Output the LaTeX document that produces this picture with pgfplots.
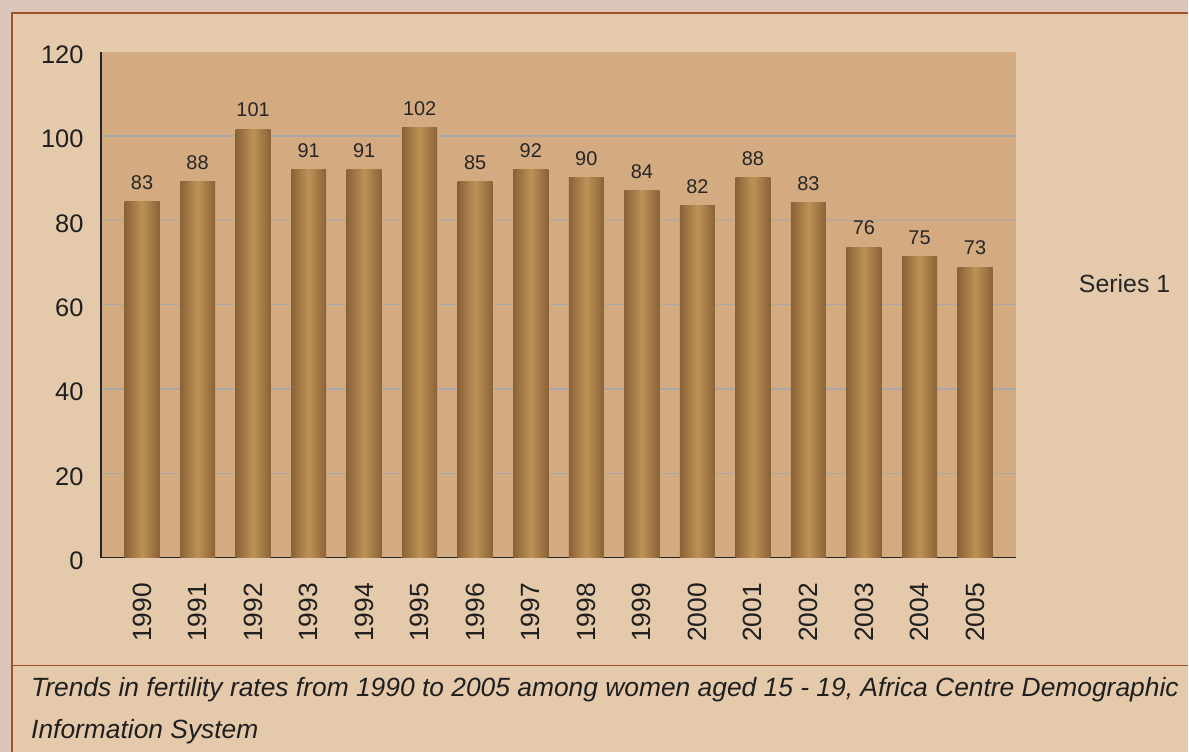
\documentclass[border=0pt]{standalone}
\usepackage{pgfplots}
\pgfplotsset{compat=1.18}
\usepackage{fontspec}
\setmainfont{Liberation Sans}
\definecolor{outerbg}{HTML}{DCC5B9}
\definecolor{framebg}{HTML}{E4C9AB}
\definecolor{frameline}{HTML}{A0522D}
\definecolor{plotbg}{HTML}{D4AA80}
\definecolor{gridgray}{HTML}{A8A8A8}
\definecolor{bardark}{HTML}{8A6236}
\definecolor{barlight}{HTML}{BD9257}
\begin{document}
\begin{tikzpicture}
\fill[outerbg] (0,0) rectangle (1189bp,753bp);
\fill[framebg] (12bp,0) rectangle (1189bp,740bp);
\draw[frameline, line width=2bp] (12bp,0) -- (12bp,740bp) -- (1189bp,740bp);
\draw[frameline, line width=1.5bp] (12bp,87bp) -- (1189bp,87bp);
\begin{axis}[
  at={(101bp,195bp)}, anchor=south west,
  scale only axis, width=916bp, height=506bp,
  xmin=-0.74, xmax=15.74, ymin=0, ymax=120,
  axis background/.style={fill=plotbg},
  axis x line*=bottom, axis y line*=left,
  axis line style={line width=1.5bp, color=black!85},
  ytick={0,20,...,100}, ymajorgrids,
  extra y ticks={120}, extra tick style={grid=none},
  grid style={line width=1.5bp, color=gridgray},
  xtick={0,...,15},
  xticklabels={1990,1991,1992,1993,1994,1995,1996,1997,1998,1999,2000,2001,2002,2003,2004,2005},
  major tick length=0,
  tick label style={font=\fontsize{25.5}{30}\selectfont, color=black!88},
  /pgf/number format/assume math mode=true,
  yticklabel style={xshift=-14bp, yshift=-3bp},
  x tick label style={yshift=-22bp, rotate=90, anchor=east, font=\fontsize{26.5}{30}\selectfont},
  ybar, bar width=0.63,
  nodes near coords, point meta=explicit symbolic,
  every node near coord/.append style={font=\fontsize{20}{24}\selectfont, yshift=9bp, color=black!85},
  barstyle/.style={draw=none, bar shift=0pt, left color=bardark, right color=bardark, middle color=barlight},
  clip=false,
]
\addplot[barstyle] coordinates {(0,84.4) [83]};
\addplot[barstyle] coordinates {(1,89.2) [88]};
\addplot[barstyle] coordinates {(2,101.7) [101]};
\addplot[barstyle] coordinates {(3,92.0) [91]};
\addplot[barstyle] coordinates {(4,92.0) [91]};
\addplot[barstyle] coordinates {(5,102.0) [102]};
\addplot[barstyle] coordinates {(6,89.2) [85]};
\addplot[barstyle] coordinates {(7,92.0) [92]};
\addplot[barstyle] coordinates {(8,90.1) [90]};
\addplot[barstyle] coordinates {(9,87.0) [84]};
\addplot[barstyle] coordinates {(10,83.5) [82]};
\addplot[barstyle] coordinates {(11,90.1) [88]};
\addplot[barstyle] coordinates {(12,84.2) [83]};
\addplot[barstyle] coordinates {(13,73.7) [76]};
\addplot[barstyle] coordinates {(14,71.4) [75]};
\addplot[barstyle] coordinates {(15,68.8) [73]};
\end{axis}
\node[anchor=base, inner sep=0, font=\fontsize{25}{30}\selectfont, color=black!85] at (1125.5bp,460bp) {Series 1};
\node[anchor=base west, inner sep=0, font=\fontsize{26.5}{30}\selectfont\itshape, color=black!88] at (31bp,56bp) {Trends in fertility rates from 1990 to 2005 among women aged 15 - 19, Africa Centre Demographic};
\node[anchor=base west, inner sep=0, font=\fontsize{26.5}{30}\selectfont\itshape, color=black!88] at (31bp,14bp) {Information System};
\end{tikzpicture}
\end{document}
